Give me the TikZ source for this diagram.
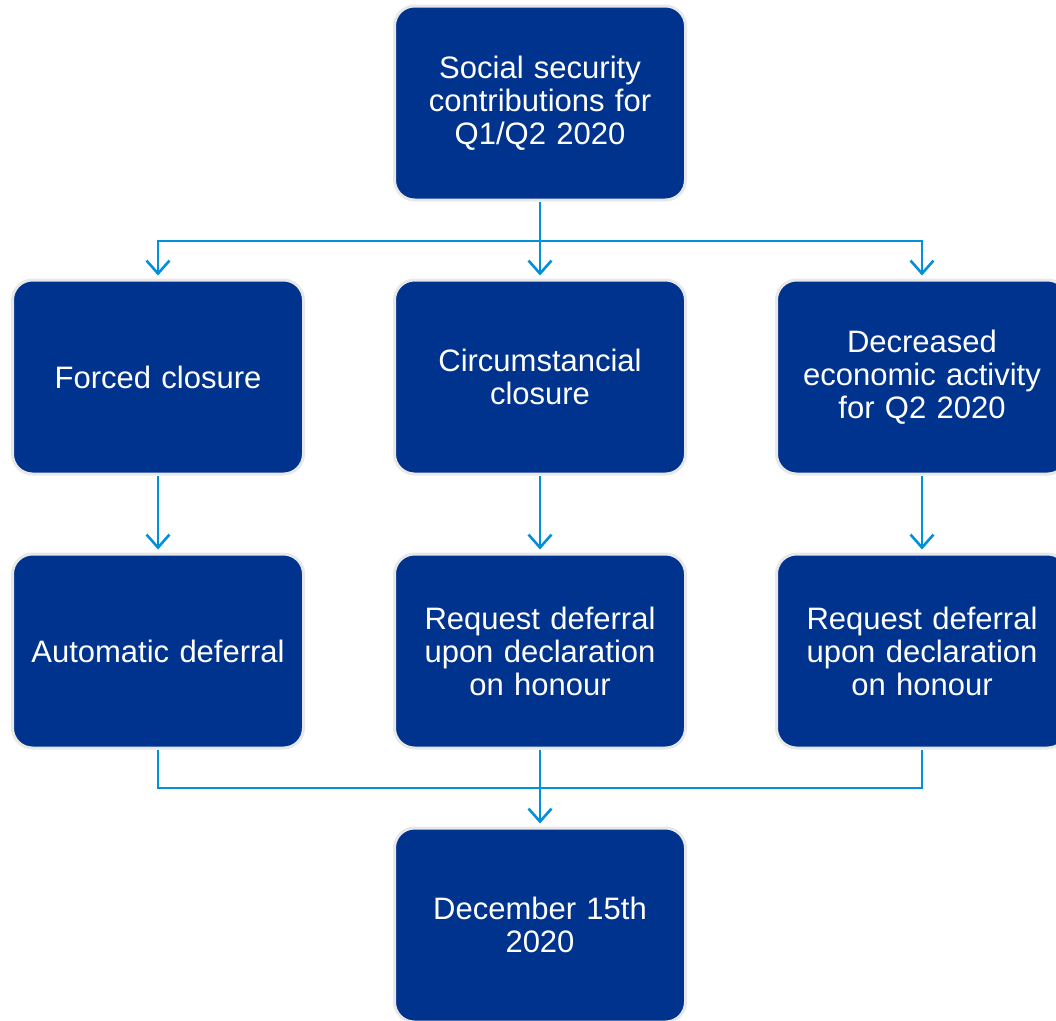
\documentclass[tikz,border=0pt]{standalone}
\usepackage{fontspec}
\setmainfont{Liberation Sans}
\usepackage{tikz}
\usetikzlibrary{arrows.meta,positioning,calc}
\usepackage{xcolor}
\definecolor{boxblue}{HTML}{00338D}
\definecolor{flowblue}{HTML}{0091DA}
\definecolor{edgegray}{HTML}{E8E8E8}

\begin{document}
\begin{tikzpicture}[x=1pt, y=-1pt,
    box/.style={draw=edgegray, line width=3pt, fill=boxblue, rounded corners=20pt,
        minimum width=291pt, minimum height=194pt, text width=275pt, align=center,
        text=white, font=\fontsize{31}{33}\selectfont},
    flow/.style={draw=flowblue, line width=2.6pt},
    tip/.style={-{Straight Barb[length=13pt,width=23pt]}, shorten >=3pt}]
    \useasboundingbox (0,0) rectangle (1056,1020);
    % boxes
    \node[box] (ssc) at (540,103) {Social security\\contributions for\\Q1/Q2 2020};
    \node[box] (forced) at (158,377) {Forced closure};
    \node[box] (circ) at (540,377) {Circumstancial\\closure};
    \node[box] (decr) at (922,377) {Decreased\\economic activity\\for Q2 2020};
    \node[box] (autod) at (158,651) {Automatic deferral};
    \node[box] (reqc) at (540,651) {Request deferral\\upon declaration\\on honour};
    \node[box] (reqd) at (922,651) {Request deferral\\upon declaration\\on honour};
    \node[box] (dec) at (540,925) {December 15th\\2020};
    \coordinate (split) at (540,241);
    \coordinate (join) at (540,788);
    % connectors
    \draw[flow,tip] (ssc.south) -- (circ.north);
    \draw[flow,tip] (split) -| (forced.north);
    \draw[flow,tip] (split) -| (decr.north);
    \draw[flow,tip] (forced.south) -- (autod.north);
    \draw[flow,tip] (circ.south) -- (reqc.north);
    \draw[flow,tip] (decr.south) -- (reqd.north);
    \draw[flow] (autod.south) |- (join) -| (reqd.south);
    \draw[flow,tip] (reqc.south) -- (dec.north);
\end{tikzpicture}
\end{document}
